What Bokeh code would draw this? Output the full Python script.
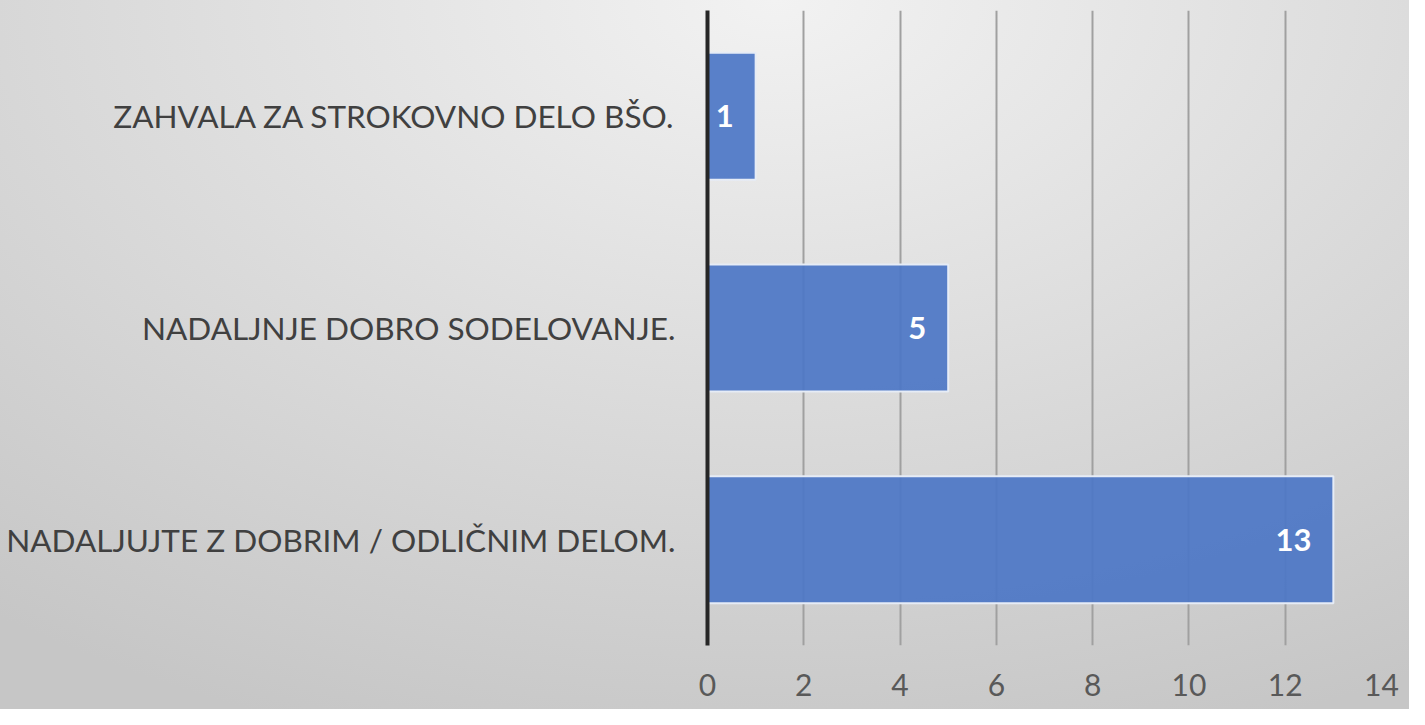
from bokeh.plotting import figure
from bokeh.embed import file_html
from bokeh.resources import INLINE
from bokeh.core.properties import value
from bokeh.models import ColumnDataSource, FixedTicker

categories = [
    "NADALJUJTE Z DOBRIM / ODLIČNIM DELOM.",
    "NADALJNJE DOBRO SODELOVANJE.",
    "ZAHVALA ZA STROKOVNO DELO BŠO.",
]
counts = [13, 5, 1]
x_ticks = [0, 2, 4, 6, 8, 10, 12, 14]

source = ColumnDataSource(dict(cat=categories, val=counts, lab=[str(v) for v in counts]))

p = figure(
    width=1409, height=709,
    y_range=categories, x_range=(0, 14),
    output_backend="svg", toolbar_location=None,
    min_border_left=707, min_border_right=28,
    min_border_top=10, min_border_bottom=64,
    outline_line_color=None,
    styles={"background": "radial-gradient(ellipse 90% 110% at 55% 0%, #f2f2f2 0%, #c6c6c6 100%)"},
)
p.background_fill_color = None
p.border_fill_color = None

p.hbar(y="cat", right="val", left=0, height=0.6, source=source,
       fill_color="#4c76c6", fill_alpha=0.92, line_color="#e6ecf6", line_width=2)

p.text(x="val", y="cat", text="lab", source=source,
       x_offset=-22, text_align="right", text_baseline="middle",
       text_color="white", text_font=value("Lato"), text_font_style="bold",
       text_font_size="31px")

# x axis
p.xaxis.ticker = FixedTicker(ticks=x_ticks)
p.xaxis.axis_line_color = None
p.xaxis.major_tick_line_color = None
p.xaxis.minor_tick_line_color = None
p.xaxis.major_label_text_font = "Lato"
p.xaxis.major_label_text_font_size = "30px"
p.xaxis.major_label_text_color = "#595959"
p.xaxis.major_label_standoff = 22

# y axis
p.yaxis.axis_line_color = "#262626"
p.yaxis.axis_line_width = 4
p.yaxis.major_tick_line_color = None
p.yaxis.minor_tick_line_color = None
p.yaxis.major_label_text_font = "Lato"
p.yaxis.major_label_text_font_size = "31.5px"
p.yaxis.major_label_text_color = "#404040"
p.yaxis.major_label_standoff = 26

# grid
p.ygrid.grid_line_color = None
p.xgrid.ticker = FixedTicker(ticks=x_ticks)
p.xgrid.grid_line_color = "#a0a0a0"
p.xgrid.grid_line_width = 2

open("out.html", "w").write(file_html(p, INLINE))
